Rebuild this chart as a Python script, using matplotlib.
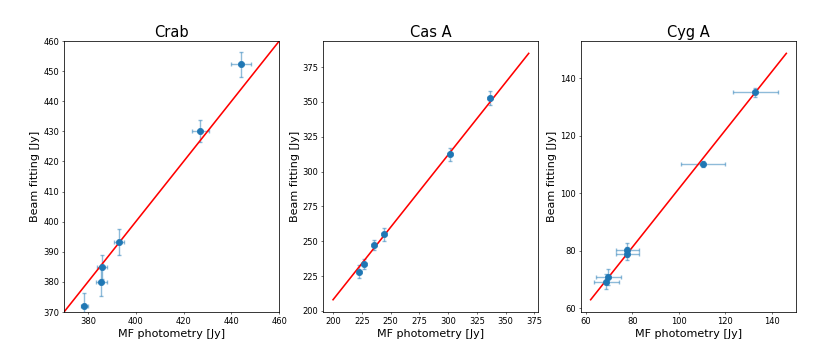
import matplotlib
matplotlib.use("Agg")
import matplotlib.pyplot as plt

# ---- data ----
crab_mf = [378.5, 385.8, 385.6, 393.0, 427.0, 444.0]
crab_bf = [372.0, 385.1, 380.0, 393.3, 430.1, 452.3]
crab_mf_err = [1.5, 2.0, 2.3, 2.1, 3.6, 4.2]
crab_bf_err = [4.3, 4.0, 4.7, 4.2, 3.7, 4.2]
crab_line_x = [370, 460]
crab_line_y = [370, 460]
crab_xticks = [380, 400, 420, 440, 460]

casa_mf = [222.3, 226.8, 235.7, 244.2, 302.0, 336.5]
casa_bf = [228.2, 233.6, 247.1, 255.0, 312.3, 352.9]
casa_mf_err = [1.5, 1.5, 1.5, 1.5, 1.5, 1.5]
casa_bf_err = [4.8, 3.8, 3.7, 4.6, 4.5, 5.0]
casa_line_x = [200, 370]
casa_line_y = [208.0, 384.8]

cyga_mf = [69.6, 68.7, 77.7, 77.7, 110.3, 132.9]
cyga_bf = [71.0, 69.2, 80.3, 79.0, 110.3, 135.1]
cyga_mf_err = [5.3, 5.3, 4.9, 4.9, 9.4, 9.6]
cyga_bf_err = [2.8, 2.6, 2.3, 2.3, 1.0, 1.5]
cyga_line_x = [62.0, 146.2]
cyga_line_y = [63.0, 148.7]

titles = ["Crab", "Cas A", "Cyg A"]
xlabel = "MF photometry [Jy]"
ylabel = "Beam fitting [Jy]"

fig = plt.figure(figsize=(16.62, 7.02), dpi=50)
lefts = [0.077, 0.389, 0.699]
axes = [fig.add_axes([l, 0.111, 0.259, 0.772]) for l in lefts]

panels = [
    (crab_mf, crab_bf, crab_mf_err, crab_bf_err, crab_line_x, crab_line_y),
    (casa_mf, casa_bf, casa_mf_err, casa_bf_err, casa_line_x, casa_line_y),
    (cyga_mf, cyga_bf, cyga_mf_err, cyga_bf_err, cyga_line_x, cyga_line_y),
]

for ax, title, (mf, bf, mfe, bfe, lx, ly) in zip(axes, titles, panels):
    ax.errorbar(mf, bf, xerr=mfe, yerr=bfe, fmt='o', color='C0',
                ecolor=(0.12, 0.47, 0.71, 0.5), capsize=3, elinewidth=2,
                capthick=2, markersize=9)
    ax.plot(lx, ly, color='red', lw=2.3)
    ax.set_title(title, fontsize=21)
    ax.set_xlabel(xlabel, fontsize=16)
    ax.set_ylabel(ylabel, fontsize=16)
    ax.tick_params(labelsize=12)
    for s in ax.spines.values():
        s.set_linewidth(1.1)

axes[0].set_xlim(370, 460)
axes[0].set_ylim(370, 460)
axes[0].set_xticks(crab_xticks)

fig.savefig("out.png", dpi=50)
